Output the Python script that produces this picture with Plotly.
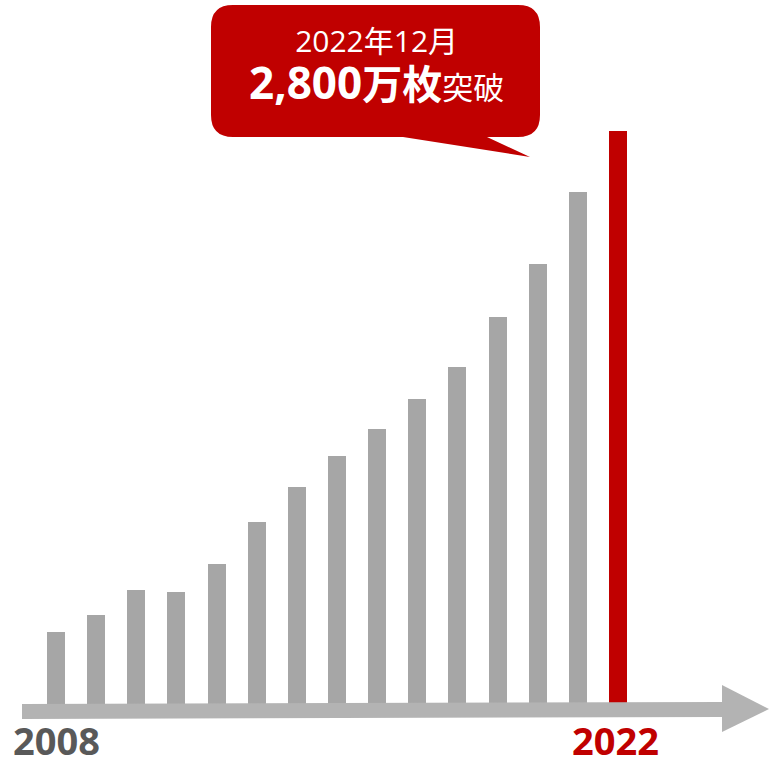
import plotly.graph_objects as go

# Issued cards per year (unit: 10,000 cards)
years = [2008, 2009, 2010, 2011, 2012, 2013, 2014, 2015,
         2016, 2017, 2018, 2019, 2020, 2021, 2022]
cards = [352, 435, 557, 547, 684, 889, 1060, 1212,
         1344, 1490, 1647, 1891, 2150, 2502, 2800]

GRAY = "#a6a6a6"
RED = "#c00000"
AXIS = "#b3b3b3"

W, H = 769, 765
colors = [RED if y == years[-1] else GRAY for y in years]

fig = go.Figure(go.Bar(
    x=years, y=cards, marker=dict(color=colors, line=dict(width=0)),
    width=0.45, hoverinfo="x+y",
))


def px(x, y):
    """Pixel position -> paper coordinates."""
    return x / W, 1 - y / H


def path(points, close=True):
    parts = []
    for i, (x, y) in enumerate(points):
        a, b = px(x, y)
        parts.append(("M" if i == 0 else "L") + f"{a:.5f},{b:.5f}")
    return " ".join(parts) + (" Z" if close else "")


shapes = []
# timeline arrow: shaft + head
shapes.append(dict(type="path", xref="paper", yref="paper", layer="above",
                   path=path([(22, 704), (722, 702), (722, 717), (22, 719)]),
                   fillcolor=AXIS, line=dict(width=0)))
shapes.append(dict(type="path", xref="paper", yref="paper", layer="above",
                   path=path([(722, 685), (769, 709), (722, 732)]),
                   fillcolor=AXIS, line=dict(width=0)))

# speech bubble with rounded corners and tail
l, t, r, b, rad = 211, 5, 540, 137, 22


def P(x, y):
    a, c = px(x, y)
    return f"{a:.5f},{c:.5f}"


bubble = (
    f"M{P(l + rad, t)} L{P(r - rad, t)} Q{P(r, t)} {P(r, t + rad)} "
    f"L{P(r, b - rad)} Q{P(r, b)} {P(r - rad, b)} "
    f"L{P(487, b)} L{P(530, 157)} L{P(403, b)} "
    f"L{P(l + rad, b)} Q{P(l, b)} {P(l, b - rad)} "
    f"L{P(l, t + rad)} Q{P(l, t)} {P(l + rad, t)} Z"
)
shapes.append(dict(type="path", xref="paper", yref="paper", path=bubble,
                   fillcolor=RED, line=dict(width=0)))

font_family = "Open Sans, Noto Sans CJK JP"
bubble_text = (
    "<span style='font-size:30px'>2022年12月</span><br>"
    "<b><span style='font-size:44px'>2,800</span>"
    "<span style='font-size:40px'>万枚</span></b>"
    "<span style='font-size:31px'>突破</span>"
)
annotations = [
    dict(x=px(376, 0)[0], y=px(0, 66)[1], xref="paper", yref="paper",
         text=bubble_text, showarrow=False, xanchor="center", yanchor="middle",
         align="center", font=dict(family=font_family, size=36, color="white")),
    dict(x=px(11, 0)[0], y=px(0, 740)[1], xref="paper", yref="paper",
         text=f"<b>{years[0]}</b>", showarrow=False, xanchor="left", yanchor="middle",
         font=dict(family="Open Sans", size=38, color="#595959")),
    dict(x=years[-1], y=px(0, 740)[1], xref="x", yref="paper", xshift=-2,
         text=f"<b>{years[-1]}</b>", showarrow=False, xanchor="center", yanchor="middle",
         font=dict(family="Open Sans", size=38, color=RED)),
]

# axis scales: 40.14 px per year, baseline 704 px from top, 2800 -> 573 px
step = 40.14
x0 = years[0] - 56 / step
x1 = x0 + W / step
ppu = 573 / 2800
y_lo = -(H - 704) / ppu
y_hi = 704 / ppu

fig.update_layout(
    width=W, height=H, margin=dict(l=0, r=0, t=0, b=0),
    paper_bgcolor="white", plot_bgcolor="white", showlegend=False,
    xaxis=dict(range=[x0, x1], visible=False, fixedrange=True),
    yaxis=dict(range=[y_lo, y_hi], visible=False, fixedrange=True),
    shapes=shapes, annotations=annotations, bargap=0,
)

fig.write_html("out.html", config={"displayModeBar": False})
